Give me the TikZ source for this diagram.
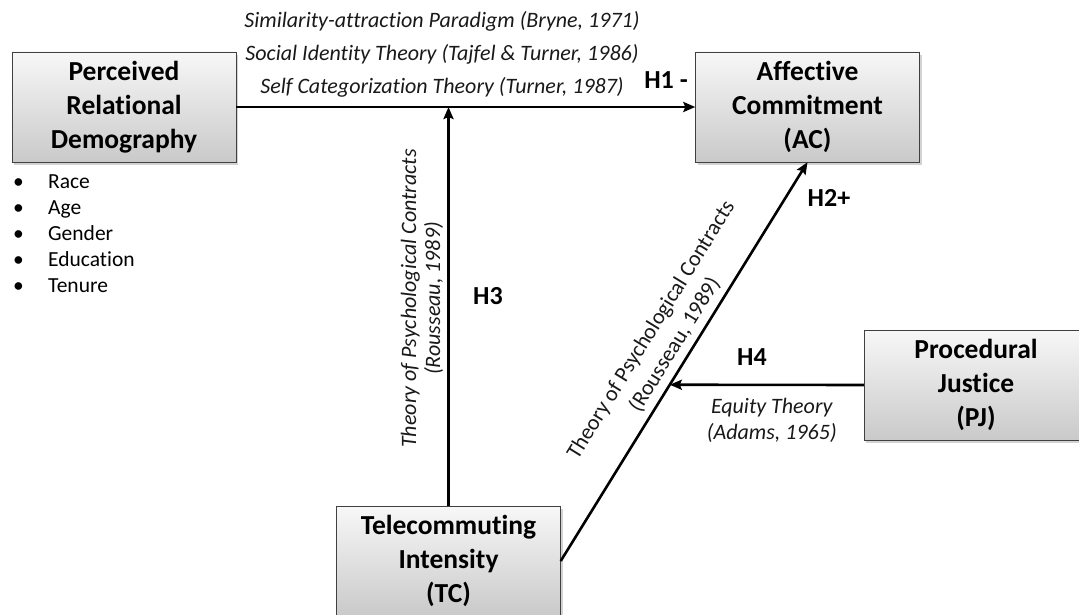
\documentclass[tikz,border=0pt]{standalone}
\usepackage{fontspec}
\setmainfont{Carlito}[Ligatures=NoCommon]
\usepackage{tikz}
\usetikzlibrary{positioning,calc}
\usetikzlibrary{shapes.geometric, arrows.meta, shadows}
\tikzstyle{arrow} = [line width=2.6pt,->,>={Stealth[length=12pt,width=10pt,inset=2pt]}]
\tikzstyle{construct} = [draw=black!75,thin,top color=gray!6,bottom color=gray!42,
	drop shadow={shadow xshift=2pt,shadow yshift=-3pt,opacity=0.35},
	minimum width=224pt,minimum height=110pt,align=center,
	font=\fontsize{27.5}{34}\selectfont\bfseries]
\tikzstyle{theory} = [align=center,inner sep=3pt,text=black!90,
	font=\fontsize{22}{26}\selectfont\itshape]
\tikzstyle{hyp} = [font=\fontsize{26}{30}\selectfont\bfseries]

\begin{document}
\begin{tikzpicture}[x=1pt,y=-1pt]
					\useasboundingbox (0,0) rectangle (1079,615);
					
					%Nodes
					\node [construct] (PRD) at (124,107) {Perceived\\Relational\\Demography};
					\node [construct] (AC) at (807.5,107) {Affective\\Commitment\\(AC)};
					\node [construct] (TC) at (448.5,561) {Telecommuting\\Intensity\\(TC)};
					\node [construct] (PJ) at (976,385) {Procedural\\Justice\\(PJ)};
					\coordinate (H3end) at (TC.north |- PRD.east);
					\coordinate (H4end) at ($(TC.east)!0.442!(AC.south)$);
					
					%Dimensions
					\node [anchor=north west,align=left,inner sep=0pt,
						font=\fontsize{21.5}{26}\selectfont] (dims) at (13,175)
						{\makebox[35pt][l]{\textbullet}Race\\
						 \makebox[35pt][l]{\textbullet}Age\\
						 \makebox[35pt][l]{\textbullet}Gender\\
						 \makebox[35pt][l]{\textbullet}Education\\
						 \makebox[35pt][l]{\textbullet}Tenure};
					
					%Lines
					\draw[arrow] (PRD.east) -- (AC.west);
					\draw[arrow] (TC.north) -- (H3end)
						node [theory,font=\fontsize{22}{24}\selectfont\itshape,sloped,above=1pt,pos=0.52]
						{Theory of Psychological Contracts\\(Rousseau, 1989)};
					\draw[arrow] (TC.east) -- (AC.south)
						node [theory,font=\fontsize{22}{28}\selectfont,sloped,above=3pt,pos=0.52]
						{Theory of Psychological Contracts\\(Rousseau, 1989)};
					\draw[arrow] (PJ.west) -- (H4end)
						node [theory,below=9pt,midway,xshift=5pt] {Equity Theory\\(Adams, 1965)};
					
					%Labels
					\node [theory,font=\fontsize{22}{33}\selectfont\itshape] (base) at (442,54)
						{Similarity-attraction Paradigm (Bryne, 1971)\\
						 Social Identity Theory (Tajfel \& Turner, 1986)\\
						 Self Categorization Theory (Turner, 1987)};
					\node [hyp] (H1) at (666,80) {H1 -};
					\node [hyp] (H2) at (829,198) {H2+};
					\node [hyp] (H3) at (488,296) {H3};
					\node [hyp] (H4) at (752,357) {H4};
				\end{tikzpicture}
\end{document}
